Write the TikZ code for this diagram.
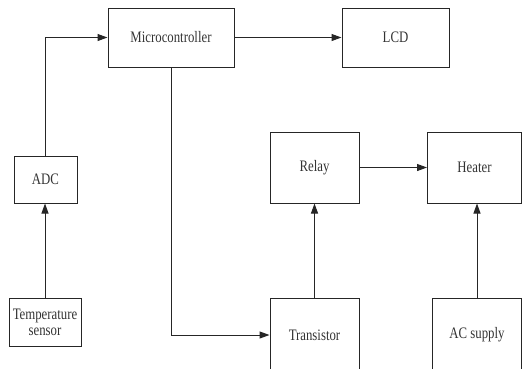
\documentclass[tikz,border=0pt]{standalone}
\usepackage{fontspec}
\setmainfont{Liberation Serif}[FakeStretch=0.8]
\usetikzlibrary{arrows.meta}
\begin{document}
\begin{tikzpicture}[x=1pt,y=-1pt,
  blk/.style={draw=black!85,line width=1pt,inner sep=0pt,align=center,
    font=\fontsize{16}{16}\selectfont,text=black!80},
  conn/.style={draw=black!85,line width=1pt,-{Triangle[length=10pt,width=7pt]}}]
\useasboundingbox (0,0) rectangle (522,368);
\clip (0,0) rectangle (522,368);
\node[blk,minimum width=126pt,minimum height=59pt] (micro) at (171,37.5) {Microcontroller};
\node[blk,minimum width=107pt,minimum height=59pt] (lcd) at (395.5,37.5) {LCD};
\node[blk,minimum width=89pt,minimum height=71pt] (relay) at (314.5,167.5) {Relay};
\node[blk,minimum width=94pt,minimum height=71pt] (heater) at (474.5,167.5) {Heater};
\node[blk,minimum width=63pt,minimum height=47pt] (adc) at (45.5,179.5) {ADC};
\node[blk,minimum width=72pt,minimum height=48pt] (temp) at (45,322) {Temperature\\sensor};
\node[blk,minimum width=89pt,minimum height=74pt] (trans) at (314.5,335) {Transistor};
\node[blk,minimum width=89pt,minimum height=74pt] (ac) at (477,335) {AC supply};
\draw[conn] (adc.north) |- (micro.west);
\draw[conn] (micro.east) -- (lcd.west);
\draw[conn] (micro.south) |- (trans.west);
\draw[conn] (trans.north) -- (relay.south);
\draw[conn] (relay.east) -- (heater.west);
\draw[conn] (ac.north) -- (ac.north |- heater.south);
\draw[conn] (temp.north) -- (temp.north |- adc.south);
\end{tikzpicture}
\end{document}
